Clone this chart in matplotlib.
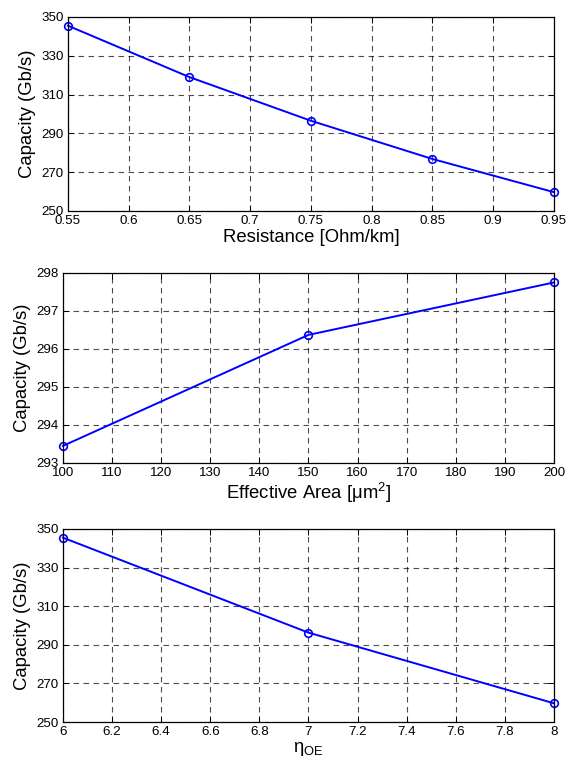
import numpy as np
import matplotlib.pyplot as plt
from matplotlib.ticker import FormatStrFormatter

plt.rcParams['font.family'] = ['Liberation Sans', 'DejaVu Sans']
plt.rcParams['mathtext.fontset'] = 'custom'
plt.rcParams['mathtext.rm'] = 'Liberation Sans'
plt.rcParams['mathtext.it'] = 'Liberation Sans'
plt.rcParams['mathtext.default'] = 'regular'

# data
resistance = [0.55, 0.65, 0.75, 0.85, 0.95]
cap_resistance = [345.5, 319.0, 296.5, 276.8, 259.7]

area = [100, 150, 200]
cap_area = [293.45, 296.37, 297.75]

eta_oe = [6, 7, 8]
cap_eta = [345.5, 296.3, 259.7]

fig = plt.figure(figsize=(5.68, 7.65), dpi=100)
ax1 = fig.add_axes([0.1197, 0.7242, 0.8556, 0.2536])
ax2 = fig.add_axes([0.1109, 0.3948, 0.8644, 0.2484])
ax3 = fig.add_axes([0.1109, 0.0562, 0.8644, 0.2523])


def style(ax):
    ax.grid(True, color='black', linestyle=(0, (5, 4)), linewidth=0.8, alpha=0.7)
    ax.tick_params(direction='in', top=True, right=True, length=4,
                   labelsize=9.6, pad=3, width=0.7)
    for s in ax.spines.values():
        s.set_linewidth(0.9)
    ax.xaxis.set_major_formatter(FormatStrFormatter('%g'))
    ax.yaxis.set_major_formatter(FormatStrFormatter('%g'))


line_kw = dict(color='#0000ff', linewidth=1.4, marker='o', markersize=5.5,
               markerfacecolor='none', markeredgewidth=1.2, clip_on=False)

# Subplot 1: resistance
ax1.plot(resistance, cap_resistance, **line_kw)
ax1.set_xlim(0.55, 0.95)
ax1.set_ylim(250, 350)
ax1.set_xticks(np.arange(0.55, 0.951, 0.05))
ax1.set_yticks(np.arange(250, 351, 20))
style(ax1)
ax1.set_xlabel('Resistance [Ohm/km]', fontsize=13.3, labelpad=1)
ax1.set_ylabel('Capacity (Gb/s)', fontsize=13.3, labelpad=4)

# Subplot 2: effective area
ax2.plot(area, cap_area, **line_kw)
ax2.set_xlim(100, 200)
ax2.set_ylim(293, 298)
ax2.set_xticks(np.arange(100, 201, 10))
ax2.set_yticks(np.arange(293, 299, 1))
style(ax2)
ax2.set_xlabel(r'Effective Area [μm$^2$]', fontsize=13.3, labelpad=1)
ax2.set_ylabel('Capacity (Gb/s)', fontsize=13.3, labelpad=4)

# Subplot 3: eta_OE
ax3.plot(eta_oe, cap_eta, **line_kw)
ax3.set_xlim(6, 8)
ax3.set_ylim(250, 350)
ax3.set_xticks(np.arange(6, 8.01, 0.2))
ax3.set_yticks(np.arange(250, 351, 20))
style(ax3)
ax3.set_xlabel(r'η$_{OE}$', fontsize=13.3, labelpad=1)
ax3.set_ylabel('Capacity (Gb/s)', fontsize=13.3, labelpad=4)

fig.savefig('out.png', dpi=100, facecolor='white')
